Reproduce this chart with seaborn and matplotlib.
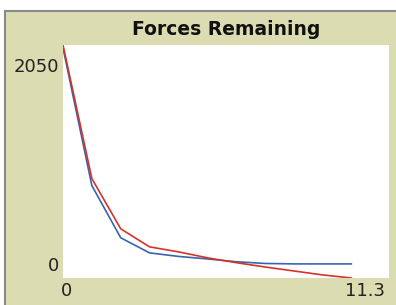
import numpy as np
import pandas as pd
import matplotlib
matplotlib.use("Agg")
import matplotlib.pyplot as plt
import matplotlib.transforms as mtransforms
from matplotlib.patches import Rectangle
import seaborn as sns

# values
ticks = [0, 1, 2, 3, 4, 5, 6, 7, 8, 9, 10]
red_forces = [2050, 875, 433, 274, 230, 178, 135, 97, 62, 27, 0]
blue_forces = [2024, 813, 354, 221, 190, 168, 143, 128, 124, 124, 124]

x_labels = ["0", "11.3"]
y_labels = ["0", "2050"]

df = pd.DataFrame({"tick": ticks, "red": red_forces, "blue": blue_forces})

sns.set_style("white")
plt.rcParams["font.family"] = ["DejaVu Sans"]

khaki = "#dcdcb2"

fig = plt.figure(figsize=(3.96, 3.05), dpi=100)
fig.patch.set_facecolor("white")
# khaki panel with thin grey frame
fig.patches.append(Rectangle((5 / 396, -0.05), 1.1, 1 - 11 / 305 + 0.05,
                             transform=fig.transFigure, facecolor=khaki,
                             edgecolor="#8a8a8a", linewidth=1.5, zorder=-10))

ax = fig.add_axes([63 / 396, 1 - 278 / 305, 326 / 396, 233 / 305])
ax.set_facecolor("white")

sns.lineplot(data=df, x="tick", y="blue", color="#3a63b0", linewidth=1.2, ax=ax)
sns.lineplot(data=df, x="tick", y="red", color="#d73229", linewidth=1.2, ax=ax)

ax.set_xlim(0, 11.3)
ax.set_ylim(0, 2050)
ax.set_xlabel("")
ax.set_ylabel("")
for s in ax.spines.values():
    s.set_visible(False)

ax.set_xticks([0, 11.3])
ax.set_xticklabels(x_labels, fontsize=13)
ax.set_yticks([0, 2050])
ax.set_yticklabels(y_labels, fontsize=13)
ax.tick_params(length=0, pad=3, colors="#222222")

# nudge labels inward like the original
shifts_x = [(4, 0), (-4, 0)]
for lab, (dx, dy) in zip(ax.get_xticklabels(), shifts_x):
    lab.set_transform(lab.get_transform() + mtransforms.ScaledTranslation(dx / 100, dy / 100, fig.dpi_scale_trans))
ax.get_xticklabels()[1].set_horizontalalignment("right")
shifts_y = [(0, 14), (0, -20)]
for lab, (dx, dy) in zip(ax.get_yticklabels(), shifts_y):
    lab.set_transform(lab.get_transform() + mtransforms.ScaledTranslation(dx / 100, dy / 100, fig.dpi_scale_trans))

ax.set_title("Forces Remaining", fontsize=13.5, fontweight="bold", pad=7, color="#111111")

fig.savefig("out.png", dpi=100)
